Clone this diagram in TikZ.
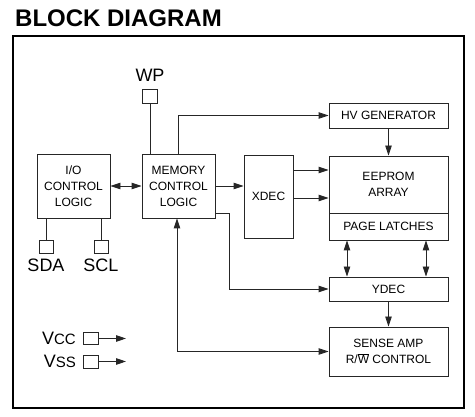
\documentclass[tikz,border=0pt]{standalone}
\usepackage{fontspec}
\setmainfont{Liberation Sans}
\usetikzlibrary{arrows.meta}
\tikzset{
  blk/.style={draw=black!85, line width=0.9pt, inner sep=0pt, align=center,
    font=\fontsize{12}{16}\selectfont},
  pin/.style={draw=black!85, line width=0.9pt, inner sep=0pt},
  pinlbl/.style={inner sep=0pt, font=\fontsize{18}{18}\selectfont},
  wire/.style={draw=black!85, line width=0.9pt},
  arr/.style={wire, -{Triangle[length=10pt,width=6.5pt]}},
  barr/.style={wire, {Triangle[length=10pt,width=6.5pt]}-{Triangle[length=10pt,width=6.5pt]}},
}
\begin{document}
\begin{tikzpicture}[x=1pt,y=-1pt]
\useasboundingbox (0,0) rectangle (475,417);
\node[anchor=base west, inner sep=0pt, font=\bfseries\fontsize{24}{24}\selectfont] (title) at (15,27) {BLOCK DIAGRAM};
\draw[line width=2pt] (13,36) rectangle (464,408);

% blocks
\node[blk, minimum width=73pt, minimum height=64pt] (io) at (73.5,186) {I/O\\CONTROL\\LOGIC};
\node[blk, minimum width=73pt, minimum height=64pt] (mem) at (178.5,186) {MEMORY\\CONTROL\\LOGIC};
\node[blk, minimum width=49pt, minimum height=83pt] (xdec) at (268.5,196.5) {XDEC};
\node[blk, minimum width=119pt, minimum height=25pt] (hv) at (388.5,115.5) {HV GENERATOR};
\node[blk, minimum width=119pt, minimum height=57pt] (eeprom) at (388.5,184.5) {EEPROM\\ARRAY};
\node[blk, minimum width=119pt, minimum height=27pt] (latch) at (388.5,226.5) {PAGE LATCHES};
\node[blk, minimum width=119pt, minimum height=24pt] (ydec) at (388.5,289) {YDEC};
\node[blk, minimum width=119pt, minimum height=49pt] (sense) at (388.5,351.5) {SENSE AMP\\R/$\overline{\hbox{W}}$ CONTROL};

% pins
\node[pin, minimum width=15pt, minimum height=14pt] (wpbox) at (150,96) {};
\node[pinlbl] (wp) at (150,75.5) {WP};
\node[pin, minimum width=14pt, minimum height=13pt] (sdabox) at (46,246.5) {};
\node[pinlbl] (sda) at (46,265) {SDA};
\node[pin, minimum width=14pt, minimum height=13pt] (sclbox) at (101,246.5) {};
\node[pinlbl] (scl) at (101,265) {SCL};
\node[pin, minimum width=15pt, minimum height=12pt] (vccbox) at (90.5,338.5) {};
\node[pinlbl, anchor=east] (vcc) at (76,338.5) {V{\fontsize{15}{15}\selectfont CC}};
\node[pin, minimum width=15pt, minimum height=13pt] (vssbox) at (90.5,361.5) {};
\node[pinlbl, anchor=east] (vss) at (76,361.5) {V{\fontsize{15}{15}\selectfont SS}};
\coordinate (vccend) at (126,338.5);
\coordinate (vssend) at (126,361.5);

% helper coordinates
\coordinate (r1) at (0,170);
\coordinate (r2) at (0,198);
\coordinate (r3) at (0,213);
\coordinate (c1) at (229,0);
\coordinate (c2) at (347,0);
\coordinate (c3) at (426,0);
\coordinate (c4) at (177,0);

% connectors
\draw[wire] (wpbox.south) -- (wpbox.south |- mem.north);
\draw[arr] (mem.north) |- (hv.west);
\draw[barr] (io.east) -- (mem.west);
\draw[arr] (mem.east) -- (mem.east -| xdec.west);
\draw[arr] (xdec.east |- r1) -- (eeprom.west |- r1);
\draw[arr] (xdec.east |- r2) -- (eeprom.west |- r2);
\draw[arr] (hv.south) -- (eeprom.north);
\draw[barr] (latch.south -| c2) -- (ydec.north -| c2);
\draw[barr] (latch.south -| c3) -- (ydec.north -| c3);
\draw[arr] (ydec.south) -- (sense.north);
\draw[arr] (mem.east |- r3) -| (c1 |- ydec.west) -- (ydec.west);
\draw[barr] (mem.south -| c4) |- (sense.west);
\draw[wire] (io.south -| sdabox) -- (sdabox.north);
\draw[wire] (io.south -| sclbox) -- (sclbox.north);
\draw[arr] (vccbox.east) -- (vccend);
\draw[arr] (vssbox.east) -- (vssend);
\end{tikzpicture}
\end{document}
